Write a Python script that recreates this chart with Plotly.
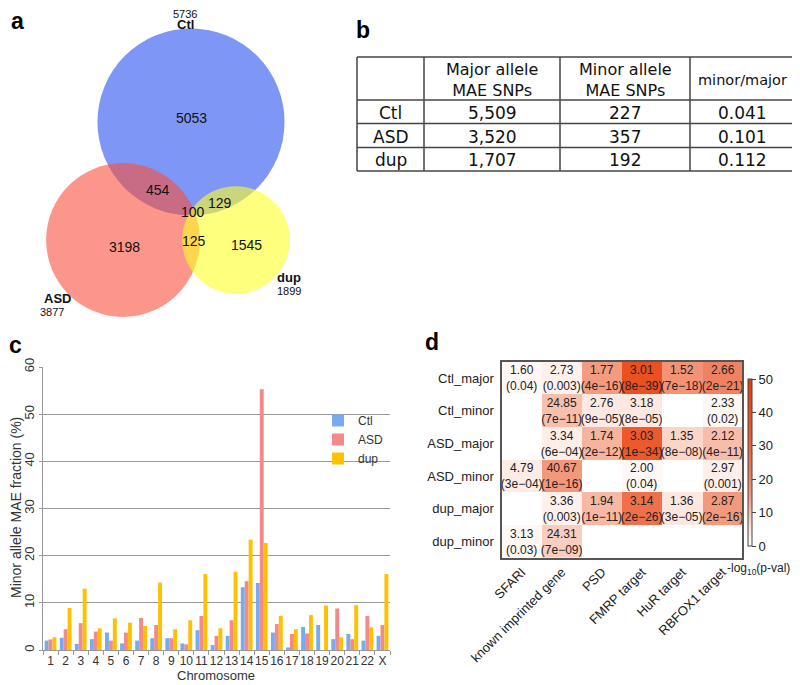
import math
import plotly.graph_objects as go

# the page adds an 8px body margin; lay out in window pixels and compensate
OFF = 8
W, H = 800 - OFF, 685 - OFF

def fx(x):
    return (x - OFF) / W

def fy(y):
    return 1 - (y - OFF) / H

# ---------------- data ----------------
# Panel a: Venn
venn_sets = ["Ctl", "ASD", "dup"]
venn_totals = [5736, 3877, 1899]
venn_region_labels = ["5053", "3198", "1545", "454", "129", "125", "100"]

# Panel b: table
table_groups = ["Ctl", "ASD", "dup"]
table_major = ["5,509", "3,520", "1,707"]
table_minor = ["227", "357", "192"]
table_ratio = ["0.041", "0.101", "0.112"]
table_headers = ["", "Major allele<br>MAE SNPs", "Minor allele<br>MAE SNPs", "minor/major"]

# Panel c: bar chart
chromosomes = ["1", "2", "3", "4", "5", "6", "7", "8", "9", "10", "11", "12",
               "13", "14", "15", "16", "17", "18", "19", "20", "21", "22", "X"]
ctl_frac = [2.0, 2.6, 1.3, 2.3, 3.7, 1.4, 2.0, 2.5, 2.5, 1.4, 4.2, 1.05,
            3.0, 13.3, 14.2, 3.7, 0.55, 4.9, 5.3, 2.3, 3.4, 2.0, 3.0]
asd_frac = [2.25, 4.4, 5.7, 3.9, 2.0, 3.7, 6.8, 5.3, 2.5, 1.2, 7.2, 3.0,
            6.3, 14.6, 55.3, 5.5, 3.4, 3.5, 0.0, 8.8, 2.3, 7.2, 5.3]
dup_frac = [2.7, 8.9, 13.0, 4.6, 6.7, 5.8, 5.1, 14.3, 4.4, 6.3, 16.1, 4.6,
            16.6, 23.4, 22.7, 7.25, 4.4, 7.4, 9.4, 2.7, 9.5, 4.8, 16.1]

# Panel d: heatmap
hm_rows = ["Ctl_major", "Ctl_minor", "ASD_major", "ASD_minor", "dup_major", "dup_minor"]
hm_cols = ["SFARI", "known imprinted gene", "PSD", "FMRP target", "HuR target", "RBFOX1 target"]
hm_or = [
    ["1.60", "2.73", "1.77", "3.01", "1.52", "2.66"],
    ["", "24.85", "2.76", "3.18", "", "2.33"],
    ["", "3.34", "1.74", "3.03", "1.35", "2.12"],
    ["4.79", "40.67", "", "2.00", "", "2.97"],
    ["", "3.36", "1.94", "3.14", "1.36", "2.87"],
    ["3.13", "24.31", "", "", "", ""],
]
hm_p = [
    ["0.04", "0.003", "4e-16", "8e-39", "7e-18", "2e-21"],
    ["", "7e-11", "9e-05", "8e-05", "", "0.02"],
    ["", "6e-04", "2e-12", "1e-34", "8e-08", "4e-11"],
    ["3e-04", "1e-16", "", "0.04", "", "0.001"],
    ["", "0.003", "1e-11", "2e-26", "3e-05", "2e-16"],
    ["0.03", "7e-09", "", "", "", ""],
]

# ---------------- figure ----------------
fig = go.Figure()
shapes = []
annotations = []

def note(x, y, text, size, color="#111", family="Liberation Sans", angle=0):
    annotations.append(dict(x=fx(x), y=fy(y), xref="paper", yref="paper", text=text,
                            xanchor="center", yanchor="middle", textangle=angle,
                            showarrow=False, font=dict(size=size, color=color, family=family)))

# ---- Panel a: Venn ----
venn_centers = [(191, 122), (123, 240), (236, 240)]
venn_colors = ["rgb(40,80,240)", "rgb(250,80,60)", "rgb(255,255,40)"]
k = 1.235
for (cx, cy), n, col in zip(venn_centers, venn_totals, venn_colors):
    r = k * math.sqrt(n)
    shapes.append(dict(type="circle", xref="paper", yref="paper",
                       x0=fx(cx - r), x1=fx(cx + r), y0=fy(cy + r), y1=fy(cy - r),
                       fillcolor=col, opacity=0.6, line=dict(width=0), layer="above"))

region_pos = [(191, 118), (124, 247), (247, 245), (158, 190), (220, 203), (194, 241), (193, 212)]
for lab, (x, y) in zip(venn_region_labels, region_pos):
    note(x, y, lab, 14)

set_label_pos = [(185, 25, 185, 14), (57, 298, 52, 312), (289, 277, 289, 291)]
for name, tot, (lx, ly, tx, ty) in zip(venn_sets, venn_totals, set_label_pos):
    note(lx, ly, "<b>%s</b>" % name, 13)
    note(tx, ty, str(tot), 11)

# ---- Panel b: table ----
col_x = [357, 424, 560, 690, 794]
row_y = [57, 100, 123.5, 147.5, 171]
tcol = "#444"
for x in col_x:
    shapes.append(dict(type="line", xref="paper", yref="paper", x0=fx(x), x1=fx(x),
                       y0=fy(row_y[0]), y1=fy(row_y[-1]), line=dict(color=tcol, width=1.5)))
for y in row_y:
    shapes.append(dict(type="line", xref="paper", yref="paper", x0=fx(col_x[0]), x1=fx(col_x[-1]),
                       y0=fy(y), y1=fy(y), line=dict(color=tcol, width=1.5)))
col_cx = [(col_x[i] + col_x[i + 1]) / 2 for i in range(4)]
for i, h in enumerate(table_headers):
    if not h:
        continue
    size = 14.5 if i == 3 else 16
    note(col_cx[i], 80, h, size, family="DejaVu Sans")
for r, vals in enumerate(zip(table_groups, table_major, table_minor, table_ratio)):
    yc = (row_y[r + 1] + row_y[r + 2]) / 2 + 1
    for i, v in enumerate(vals):
        note(col_cx[i], yc, v, 17, family="DejaVu Sans")

# ---- Panel c: bars ----
bar_series = [("Ctl", ctl_frac, "#78aaf0"), ("ASD", asd_frac, "#f38a8a"), ("dup", dup_frac, "#ffc000")]
for name, vals, col in bar_series:
    fig.add_trace(go.Bar(x=chromosomes, y=vals, name=name, marker=dict(color=col, line=dict(width=0)),
                         xaxis="x", yaxis="y", showlegend=False, legendgroup=name))
    fig.add_trace(go.Scatter(x=[None], y=[None], mode="markers", name=name, legendgroup=name,
                             marker=dict(symbol="square", size=6, color=col), xaxis="x", yaxis="y"))

# ---- Panel d: heatmap ----
hm_z = []
hm_text = []
for r in range(len(hm_rows)):
    zr, tr = [], []
    for c in range(len(hm_cols)):
        p = hm_p[r][c]
        if p:
            zr.append(-math.log10(float(p)))
            tr.append("%s<br>(%s)" % (hm_or[r][c], p.replace("-", "\u2212")))
        else:
            zr.append(None)
            tr.append("")
    hm_z.append(zr)
    hm_text.append(tr)

fig.add_trace(go.Heatmap(
    z=hm_z, x=hm_cols, y=hm_rows, text=hm_text, texttemplate="%{text}",
    textfont=dict(size=12, color="#222", family="Liberation Sans"),
    zmin=0, zmax=50, xaxis="x2", yaxis="y2", hoverongaps=False,
    colorscale=[[0, "#ffffff"], [0.1, "#fde4dc"], [0.2, "#f8c0ad"], [0.3, "#f39d82"],
                [0.45, "#ef7a57"], [0.7, "#ec5628"], [1, "#e83a08"]],
    colorbar=dict(x=fx(748), xanchor="left", y=fy(462.5), yanchor="middle",
                  len=167 / H, lenmode="fraction", thickness=4, outlinewidth=1, outlinecolor="#444",
                  tickvals=[0, 10, 20, 30, 40, 50], ticks="outside", ticklen=4, tickcolor="#444",
                  xpad=0, ypad=0,
                  tickfont=dict(size=13, color="#222", family="Liberation Sans")),
))

note(758, 569, "-log<sub>10</sub>(p-val)", 12, color="#222")

# axis titles for panel c
note(16, 508, "Minor allele MAE fraction (%)", 14, color="#333", angle=-90)
note(216, 675, "Chromosome", 13, color="#333")

# panel letters
for lab, (x, y) in zip(["a", "b", "c", "d"], [(17, 21), (363, 30), (15, 345), (432, 342)]):
    note(x, y, "<b>%s</b>" % lab, 23, color="#000")

fig.update_layout(
    template="none",
    width=W, height=H, margin=dict(l=0, r=0, t=0, b=0, pad=0, autoexpand=False),
    paper_bgcolor="white", plot_bgcolor="white",
    barmode="group", bargap=0.22, bargroupgap=0,
    font=dict(family="Liberation Sans", color="#333"),
    shapes=shapes, annotations=annotations,
    legend=dict(x=fx(318), y=fy(406), xanchor="left", yanchor="top", bgcolor="rgba(0,0,0,0)",
                font=dict(size=12, color="#333", family="Liberation Sans"),
                itemwidth=30, tracegroupgap=0, itemsizing="constant"),
    xaxis=dict(domain=[fx(43), fx(390)], anchor="y", type="category", showline=True, linecolor="#999",
               linewidth=1, ticks="outside", tickson="boundaries", ticklen=4, tickcolor="#999",
               automargin=False, categoryorder="array", categoryarray=chromosomes,
               tickfont=dict(size=12, color="#333", family="Liberation Sans Narrow, Liberation Sans"),
               tickangle=0, showgrid=False, fixedrange=True),
    yaxis=dict(domain=[fy(650), fy(367)], anchor="x", range=[0, 60], dtick=10, automargin=False,
               showline=True, linecolor="#999", linewidth=1, ticks="outside", ticklen=3, tickcolor="#999",
               gridcolor="#999", gridwidth=1, tickangle=-90, tickfont=dict(size=13, color="#333"),
               zeroline=False),
    xaxis2=dict(domain=[fx(501.7), fx(742.3)], anchor="y2", showline=True, mirror=True, linecolor="#555",
                linewidth=1.5, ticks="", tickangle=-45, tickfont=dict(size=13, color="#222"),
                showgrid=False, zeroline=False, automargin=False),
    yaxis2=dict(domain=[fy(557.7), fy(361.7)], anchor="x2", showline=True, mirror=True, linecolor="#555",
                linewidth=1.5, ticks="", autorange="reversed", tickfont=dict(size=13, color="#222"),
                showgrid=False, zeroline=False, ticksuffix=" ", automargin=False),
)

fig.write_html("out.html")
